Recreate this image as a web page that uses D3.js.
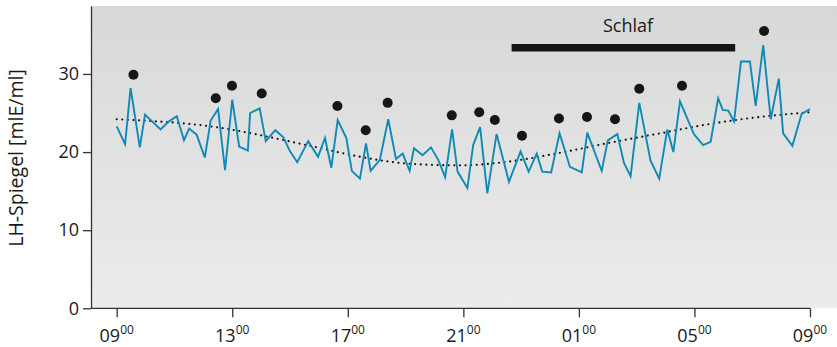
<!DOCTYPE html>
<html>
<head>
<meta charset="utf-8">
<script src="https://cdn.jsdelivr.net/npm/d3@7"></script>
<style>
  body { margin: 0; background: #fff; }
  svg { display: block; font-family: "Open Sans", "Noto Sans", sans-serif; }
</style>
</head>
<body>
<div id="chart"></div>
<script>
// LH-Spiegel over 24 h, hours counted from 09:00
const lhHours = [0, 0.29, 0.48, 0.80, 0.98, 1.52, 1.80, 2.08, 2.33, 2.51, 2.77, 3.05, 3.25,
  3.51, 3.75, 4.00, 4.24, 4.54, 4.62, 4.95, 5.16, 5.49, 5.77, 6.00, 6.25, 6.63,
  6.97, 7.21, 7.43, 7.65, 7.95, 8.14, 8.42, 8.63, 8.79, 9.11, 9.40, 9.67, 9.90, 10.14,
  10.29, 10.59, 10.88, 11.13, 11.37, 11.61, 11.80, 12.14, 12.34, 12.58, 12.83, 13.15, 13.58,
  13.98, 14.26, 14.54, 14.73, 15.04, 15.33, 15.69, 16.10, 16.29, 16.79, 17.00,
  17.33, 17.56, 17.79, 18.09, 18.48, 18.78, 19.06, 19.27, 19.50, 19.98, 20.30, 20.56,
  20.82, 20.98, 21.17, 21.37, 21.61, 21.92, 22.12, 22.38, 22.64, 22.92, 23.07, 23.39, 23.71, 24.00];
const lhValues = [23.3, 21.0, 28.2, 20.6, 24.8, 22.9, 23.9, 24.6, 21.5, 23.0, 22.2, 19.3, 24.0,
  25.5, 17.7, 26.7, 20.7, 20.2, 25.0, 25.6, 21.4, 22.8, 21.9, 20.1, 18.7, 21.4,
  19.4, 21.8, 18.0, 24.1, 21.8, 17.6, 16.6, 21.1, 17.6, 19.0, 24.2, 19.1, 19.8, 17.6,
  20.5, 19.6, 20.6, 19.0, 16.8, 22.9, 17.5, 15.4, 20.9, 23.2, 14.7, 22.3, 16.2,
  20.1, 17.5, 19.8, 17.5, 17.4, 22.4, 18.1, 17.4, 22.5, 17.6, 21.5,
  22.3, 18.6, 16.9, 26.3, 18.9, 16.6, 22.9, 20.0, 26.5, 22.3, 20.9, 21.3,
  26.9, 25.4, 25.3, 23.9, 31.6, 31.6, 25.9, 33.7, 24.2, 29.4, 22.4, 20.8, 24.9, 25.5];

// detected pulses (black dots)
const pulseHours = [0.58, 3.43, 3.99, 5.02, 7.64, 8.62, 9.38, 11.60, 12.55, 13.09,
  14.03, 15.31, 16.28, 17.25, 18.09, 19.57, 22.41];
const pulseValues = [29.9, 26.9, 28.5, 27.5, 25.9, 22.8, 26.3, 24.7, 25.1, 24.1,
  22.1, 24.3, 24.5, 24.2, 28.1, 28.5, 35.5];

// trend (dotted)
const trendHours = [0, 3.23, 6.69, 8.42, 10.15, 11.88, 13.61, 15.34, 17.08, 18.81, 20.54, 22.27, 24];
const trendValues = [24.2, 23.3, 20.8, 19.4, 18.5, 18.3, 18.8, 19.9, 21.2, 22.4, 23.6, 24.5, 25.1];

// sleep period
const sleepStart = 13.67;
const sleepEnd = 21.41;
const sleepLevel = 33.35;

const xTickHours = [0, 4, 8, 12, 16, 20, 24];
const xTickLabels = ["09", "13", "17", "21", "01", "05", "09"];
const yTicks = [0, 10, 20, 30];

const width = 837, height = 347;
const plotLeft = 91, plotTop = 6, plotBottom = 308.3;

const svg = d3.select('#chart').append('svg')
  .attr('width', width)
  .attr('height', height);

const x = d3.scaleLinear().domain([0, 24]).range([116.7, 810]);
const y = d3.scaleLinear().domain([0, 38.7]).range([plotBottom, plotTop]);

// grey background gradient
const grad = svg.append('defs').append('linearGradient')
  .attr('id', 'bg').attr('x1', 0).attr('y1', 0).attr('x2', 0).attr('y2', 1);
grad.append('stop').attr('offset', '0%').attr('stop-color', '#d7d8d8');
grad.append('stop').attr('offset', '100%').attr('stop-color', '#ececec');

svg.append('rect')
  .attr('x', plotLeft).attr('y', plotTop)
  .attr('width', width - plotLeft).attr('height', plotBottom - plotTop)
  .attr('fill', 'url(#bg)');

// trend line
const trendLine = d3.line()
  .x((d, i) => x(trendHours[i]))
  .y(d => y(d))
  .curve(d3.curveMonotoneX);

svg.append('path')
  .attr('d', trendLine(trendValues))
  .attr('fill', 'none')
  .attr('stroke', '#111')
  .attr('stroke-width', 2.2)
  .attr('stroke-linecap', 'round')
  .attr('stroke-dasharray', '0,5.6');

// LH line
const lhLine = d3.line()
  .x((d, i) => x(lhHours[i]))
  .y(d => y(d));

svg.append('path')
  .attr('d', lhLine(lhValues))
  .attr('fill', 'none')
  .attr('stroke', '#0f89b5')
  .attr('stroke-width', 1.9)
  .attr('stroke-linejoin', 'miter');

// pulses
svg.selectAll('circle.pulse')
  .data(pulseValues)
  .join('circle')
  .attr('class', 'pulse')
  .attr('cx', (d, i) => x(pulseHours[i]))
  .attr('cy', d => y(d))
  .attr('r', 5)
  .attr('fill', '#161616');

// sleep bar
svg.append('line')
  .attr('x1', x(sleepStart)).attr('x2', x(sleepEnd))
  .attr('y1', y(sleepLevel)).attr('y2', y(sleepLevel))
  .attr('stroke', '#161616')
  .attr('stroke-width', 7.6);

svg.append('text')
  .attr('x', 628).attr('y', 32)
  .attr('text-anchor', 'middle')
  .attr('font-size', 18)
  .attr('fill', '#1a1a1a')
  .text('Schlaf');

// y axis
const yAxis = svg.append('g')
  .attr('transform', `translate(${plotLeft},0)`)
  .call(d3.axisLeft(y).tickValues(yTicks).tickSize(8).tickSizeOuter(0).tickPadding(4));
yAxis.selectAll('path, line').attr('stroke', '#333').attr('stroke-width', 1.3);
yAxis.selectAll('text').attr('font-size', 18).attr('fill', '#1a1a1a')
  .attr('font-family', '"Open Sans", sans-serif');

// x axis
svg.append('line')
  .attr('x1', plotLeft).attr('x2', x(24))
  .attr('y1', plotBottom).attr('y2', plotBottom)
  .attr('stroke', '#333').attr('stroke-width', 1.3);

const xAxis = svg.append('g')
  .attr('transform', `translate(0,${plotBottom})`)
  .call(d3.axisBottom(x).tickValues(xTickHours).tickSize(9).tickSizeOuter(0).tickFormat(''));
xAxis.select('.domain').remove();
xAxis.selectAll('line').attr('stroke', '#333').attr('stroke-width', 1.3);

const xLabels = svg.append('g').selectAll('text')
  .data(xTickLabels)
  .join('text')
  .attr('x', (d, i) => x(xTickHours[i]))
  .attr('y', 341.5)
  .attr('text-anchor', 'middle')
  .attr('font-size', 18)
  .attr('fill', '#1a1a1a');
xLabels.append('tspan').text(d => d);
xLabels.append('tspan').attr('font-size', 12).attr('dy', -8).text('00');

// y label
svg.append('text')
  .attr('transform', 'translate(23,158) rotate(-90)')
  .attr('text-anchor', 'middle')
  .attr('font-size', 19.5)
  .attr('fill', '#1a1a1a')
  .text('LH-Spiegel [mlE/ml]');
</script>
</body>
</html>
